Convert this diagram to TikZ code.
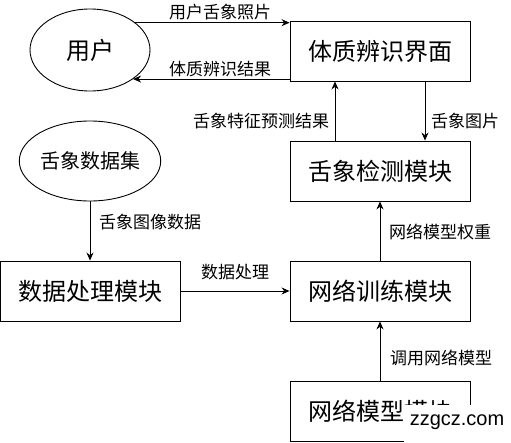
\documentclass[tikz,border=0pt]{standalone}
\usepackage{fontspec}
\newfontfamily\cjk{Noto Sans CJK SC}
\newfontfamily\wmfont{Liberation Sans}
\usetikzlibrary{shapes.geometric,arrows.meta}
\begin{document}
\begin{tikzpicture}[x=1pt,y=-1pt,
  box/.style={draw,line width=0.9pt,minimum width=180pt,minimum height=60pt,inner sep=0pt,font=\cjk\fontsize{24}{26}\selectfont},
  oval/.style={draw,ellipse,line width=0.9pt,minimum width=120pt,inner sep=0pt},
  lbl/.style={font=\cjk\fontsize{17}{19}\selectfont,inner sep=0pt},
  arr/.style={line width=0.9pt,-{Stealth[length=8pt,width=7pt]}}]
\useasboundingbox (0,0) rectangle (511,442);
\node[oval,minimum height=82pt,font=\cjk\fontsize{24}{26}\selectfont] (u) at (90,50) {用户};
\node[oval,minimum height=80pt,font=\cjk\fontsize{20}{22}\selectfont] (ds) at (90,161) {舌象数据集};
\node[box] (iface) at (380,51) {体质辨识界面};
\node[box] (det) at (380,171) {舌象检测模块};
\node[box] (train) at (380,291) {网络训练模块};
\node[box] (netm) at (380,411) {网络模型模块};
\node[box] (proc) at (90,291) {数据处理模块};
% connectors
\draw[arr] (u.31) -- (u.31 -| iface.west);
\draw[arr] (u.-34 -| iface.west) -- (u.-34);
\draw[arr] ([xshift=-45pt]det.north) -- ([xshift=-45pt]iface.south);
\draw[arr] ([xshift=45pt]iface.south) -- ([xshift=45pt]det.north);
\draw[arr] (ds.south) -- (proc.north);
\draw[arr] (proc.east) -- (train.west);
\draw[arr] (train.north) -- (det.south);
\draw[arr] (netm.north) -- (train.south);
% labels
\node[lbl] (l1) at (220,12) {用户舌象照片};
\node[lbl] (l2) at (220,69) {体质辨识结果};
\node[lbl] (l3) at (261,121) {舌象特征预测结果};
\node[lbl] (l4) at (465,121) {舌象图片};
\node[lbl] (l5) at (150,222) {舌象图像数据};
\node[lbl] (l6) at (235,272) {数据处理};
\node[lbl] (l7) at (440,232) {网络模型权重};
\node[lbl] (l8) at (441,358) {调用网络模型};
% watermark
\fill[white] (404,405) rectangle (511,442);
\node[font=\wmfont\fontsize{20}{22}\selectfont,inner sep=0pt] (wm) at (457,422) {zzgcz.com};
\end{tikzpicture}
\end{document}
